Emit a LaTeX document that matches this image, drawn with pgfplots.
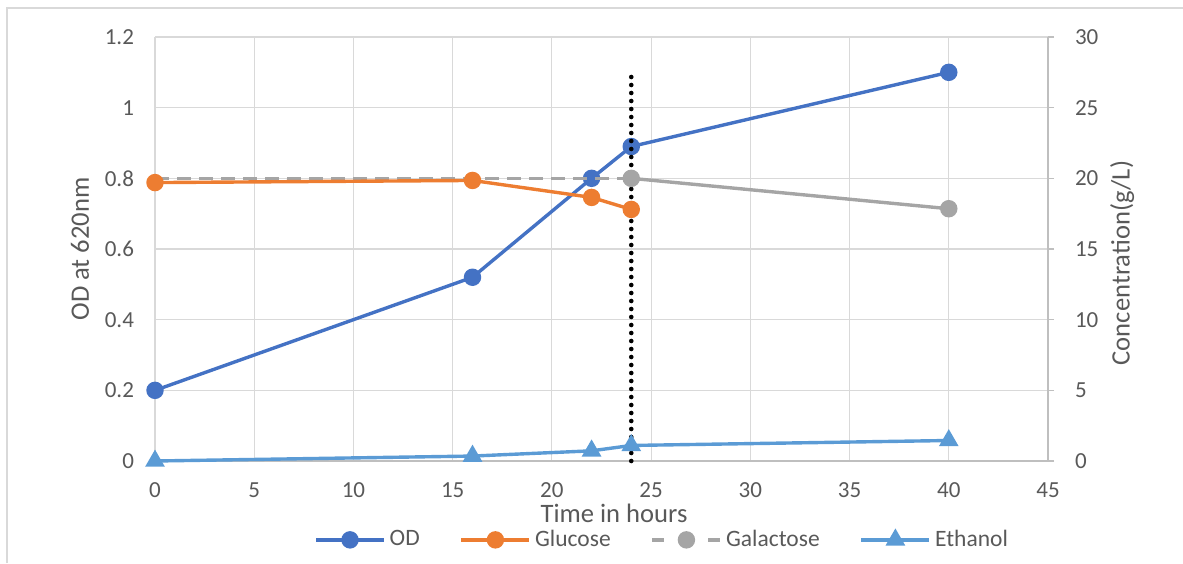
\documentclass[border=0pt]{standalone}
\usepackage{fontspec}
\setmainfont{Carlito}
\usepackage{pgfplots}
\pgfplotsset{compat=1.18}
\definecolor{odblue}{HTML}{4472C4}
\definecolor{gluorange}{HTML}{ED7D31}
\definecolor{galgray}{HTML}{A5A5A5}
\definecolor{ethblue}{HTML}{5B9BD5}
\definecolor{gridgray}{HTML}{D9D9D9}
\definecolor{axisgray}{HTML}{BFBFBF}
\definecolor{txtgray}{HTML}{595959}
\begin{document}
\begin{tikzpicture}
\useasboundingbox (0,0) rectangle (591.5pt,281.5pt);
\draw[gridgray, line width=0.6pt] (3.5pt,0) -- (3.5pt,277.5pt) -- (591.5pt,277.5pt);
\pgfplotsset{
  common/.style={
    at={(77.5pt,51pt)}, anchor=south west,
    scale only axis, width=446.5pt, height=212pt,
    xmin=0, xmax=45, clip=false,
    /pgf/number format/assume math mode=true,
    tick label style={font=\fontsize{11.5}{13}\selectfont, text=txtgray},
    label style={font=\fontsize{13.3}{15}\selectfont, text=txtgray},
    legend image code/.code={\draw[mark repeat=2,mark phase=2,##1] plot coordinates {(0pt,0pt)(17pt,0pt)(34pt,0pt)};},
  },
}
\begin{axis}[common,
  ymin=0, ymax=1.2, ytick={0,0.2,0.4,0.6,0.8,1,1.2}, xtick={0,5,...,45},
  axis x line*=bottom, axis y line*=left,
  x axis line style={-, draw=axisgray, line width=0.75pt},
  y axis line style={-, draw=gridgray, line width=0.6pt},
  grid=major, major grid style={gridgray, line width=0.6pt},
  major tick length=0pt,
  xticklabel style={yshift=-7.5pt}, yticklabel style={xshift=-7pt},
  xlabel={Time in hours}, ylabel={OD at 620nm},
  xlabel style={at={(axis description cs:0.514,-0.1226)}, anchor=center},
  ylabel style={at={(axis description cs:-0.084,0.5)}, anchor=center},
]
\addplot[odblue, line width=1.7pt, mark=*, mark size=3.5pt] coordinates {(0,0.2)(16,0.52)(22,0.8)(24,0.89)(40,1.1)};
\end{axis}
\begin{axis}[common,
  ymin=0, ymax=30, ytick={0,5,...,30},
  axis x line=none, axis y line*=right,
  y axis line style={-, draw=axisgray, line width=0.75pt},
  tick align=outside, major tick length=3pt,
  ytick style={draw=axisgray, line width=0.75pt},
  yticklabel style={xshift=7pt},
  ylabel={Concentration(g/L)},
  ylabel style={at={(axis description cs:1.083,0.467)}, anchor=center},
  legend columns=4,
  legend style={at={(axis description cs:0.569,-0.186)}, anchor=center, draw=none, fill=none,
    font=\fontsize{11.75}{13}\selectfont, text=txtgray,
    /tikz/every even column/.append style={column sep=18pt}},
]
\addlegendimage{odblue, line width=1.7pt, mark=*, mark size=3.5pt}
\addlegendentry{OD}
\addlegendimage{gluorange, line width=1.7pt, mark=*, mark size=3.5pt}
\addlegendentry{Glucose}
\addlegendimage{galgray, line width=1.7pt, dash pattern=on 6pt off 22pt on 6pt off 0pt, mark=*, mark size=3.5pt, mark options={solid}}
\addlegendentry{Galactose}
\addlegendimage{ethblue, line width=1.7pt, mark=triangle*, mark size=4pt}
\addlegendentry{Ethanol}
\addplot[galgray, line width=1.7pt, dash pattern=on 7pt off 4pt, forget plot] coordinates {(0,20)(16,20)(22,20)(24,20)};
\addplot[galgray, line width=1.7pt, mark=*, mark size=3.5pt, forget plot] coordinates {(24,20)(40,17.85)};
\addplot[gluorange, line width=1.7pt, mark=*, mark size=3.5pt, forget plot] coordinates {(0,19.7)(16,19.85)(22,18.65)(24,17.8)};
\addplot[ethblue, line width=1.7pt, mark=triangle*, mark size=4pt, forget plot] coordinates {(0,0)(16,0.35)(22,0.72)(24,1.1)(40,1.45)};
\addplot[black, line width=2.3pt, dash pattern=on 0pt off 4pt, line cap=round, forget plot] coordinates {(24,0)(24,27.7)};
\end{axis}
\end{tikzpicture}
\end{document}
